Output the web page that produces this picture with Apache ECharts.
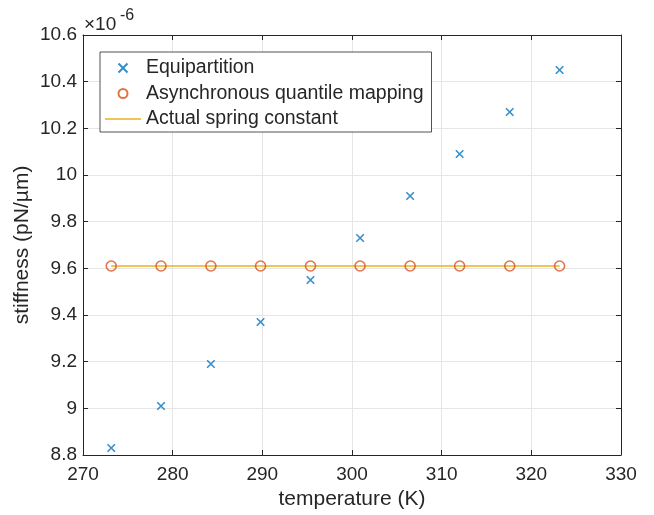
<!DOCTYPE html>
<html>
<head>
<meta charset="utf-8">
<script src="https://cdn.jsdelivr.net/npm/echarts@6/dist/echarts.min.js"></script>
<style>
  html, body { margin: 0; padding: 0; background: #fff; }
  #chart { width: 654px; height: 515px; }
</style>
</head>
<body>
<div id="chart"></div>
<script>
// temperatures (K) and stiffness values (x 1e-6 pN/um)
var temperature = [273.15, 278.7, 284.26, 289.8, 295.37, 300.9, 306.48, 312.0, 317.59, 323.15];
var equipartition = [8.83, 9.01, 9.19, 9.37, 9.55, 9.73, 9.91, 10.09, 10.27, 10.45];
var quantileMapping = [9.61, 9.61, 9.61, 9.61, 9.61, 9.61, 9.61, 9.61, 9.61, 9.61];
var springConstant = [9.61, 9.61, 9.61, 9.61, 9.61, 9.61, 9.61, 9.61, 9.61, 9.61];

var FONT = 'Liberation Sans';
var INK = '#262626';

var chart = echarts.init(document.getElementById('chart'));

function pairs(ys) {
  return temperature.map(function (t, i) { return [t, ys[i]] });
}

var axisCommon = {
  axisLine: { show: true, lineStyle: { color: INK, width: 1 } },
  axisTick: { show: true, inside: true, length: 5, lineStyle: { color: INK } },
  axisLabel: { color: INK, fontFamily: FONT, fontSize: 19 },
  nameTextStyle: { color: INK, fontFamily: FONT, fontSize: 21 }
};

chart.setOption({
  animation: false,
  backgroundColor: '#fff',
  grid: { left: 83, right: 33, top: 35, bottom: 60, containLabel: false },
  legend: {
    orient: 'vertical',
    left: 100,
    top: 52,
    backgroundColor: '#fff',
    borderColor: INK,
    borderWidth: 0.8,
    borderRadius: 0,
    padding: [6, 8, 3, 5],
    itemWidth: 36,
    itemHeight: 9,
    itemGap: 5.5,
    textStyle: { color: INK, fontFamily: FONT, fontSize: 19.5, lineHeight: 20 },
    data: [
      'Equipartition',
      'Asynchronous quantile mapping',
      { name: 'Actual spring constant', icon: 'path://M0,0h36v1.6h-36z' }
    ]
  },
  xAxis: [
    Object.assign({}, axisCommon, {
      type: 'value',
      min: 270, max: 330, interval: 10,
      name: 'temperature (K)',
      nameLocation: 'middle',
      nameGap: 34,
      nameMoveOverlap: false,
      axisLabel: Object.assign({}, axisCommon.axisLabel, { margin: 10 }),
      splitLine: { show: true, lineStyle: { color: '#e6e6e6', width: 1 } }
    }),
    Object.assign({}, axisCommon, {
      type: 'value', position: 'top',
      min: 270, max: 330, interval: 10,
      axisLabel: { show: false },
      splitLine: { show: false }
    })
  ],
  yAxis: [
    Object.assign({}, axisCommon, {
      type: 'value',
      min: 8.8, max: 10.6, interval: 0.2,
      name: 'stiffness (pN/\u00b5m)',
      nameLocation: 'middle',
      nameGap: 50,
      nameMoveOverlap: false,
      axisLabel: Object.assign({}, axisCommon.axisLabel, { margin: 6 }),
      splitLine: { show: true, lineStyle: { color: '#e6e6e6', width: 1 } }
    }),
    Object.assign({}, axisCommon, {
      type: 'value', position: 'right',
      min: 8.8, max: 10.6, interval: 0.2,
      axisLabel: { show: false },
      splitLine: { show: false }
    })
  ],
  graphic: [
    { type: 'text', left: 84, top: 15, style: { text: '\u00d710', fontFamily: FONT, fontSize: 19, fill: INK } },
    { type: 'text', left: 120, top: 8, style: { text: '-6', fontFamily: FONT, fontSize: 16, fill: INK } }
  ],
  series: [
    {
      name: 'Equipartition',
      type: 'scatter',
      symbol: 'path://M0,0L10,10M10,0L0,10',
      symbolSize: 7.5,
      itemStyle: { color: '#0072BD', borderColor: '#0072BD', borderWidth: 1.6 },
      z: 3,
      data: pairs(equipartition)
    },
    {
      name: 'Asynchronous quantile mapping',
      type: 'scatter',
      symbol: 'circle',
      symbolSize: 10,
      itemStyle: { color: 'rgba(255,255,255,0)', borderColor: '#D95319', borderWidth: 1.6 },
      z: 4,
      data: pairs(quantileMapping)
    },
    {
      name: 'Actual spring constant',
      type: 'line',
      symbol: 'none',
      lineStyle: { color: '#EDB120', width: 1.6 },
      itemStyle: { color: '#EDB120' },
      z: 3,
      data: pairs(springConstant)
    }
  ]
});
</script>
</body>
</html>
